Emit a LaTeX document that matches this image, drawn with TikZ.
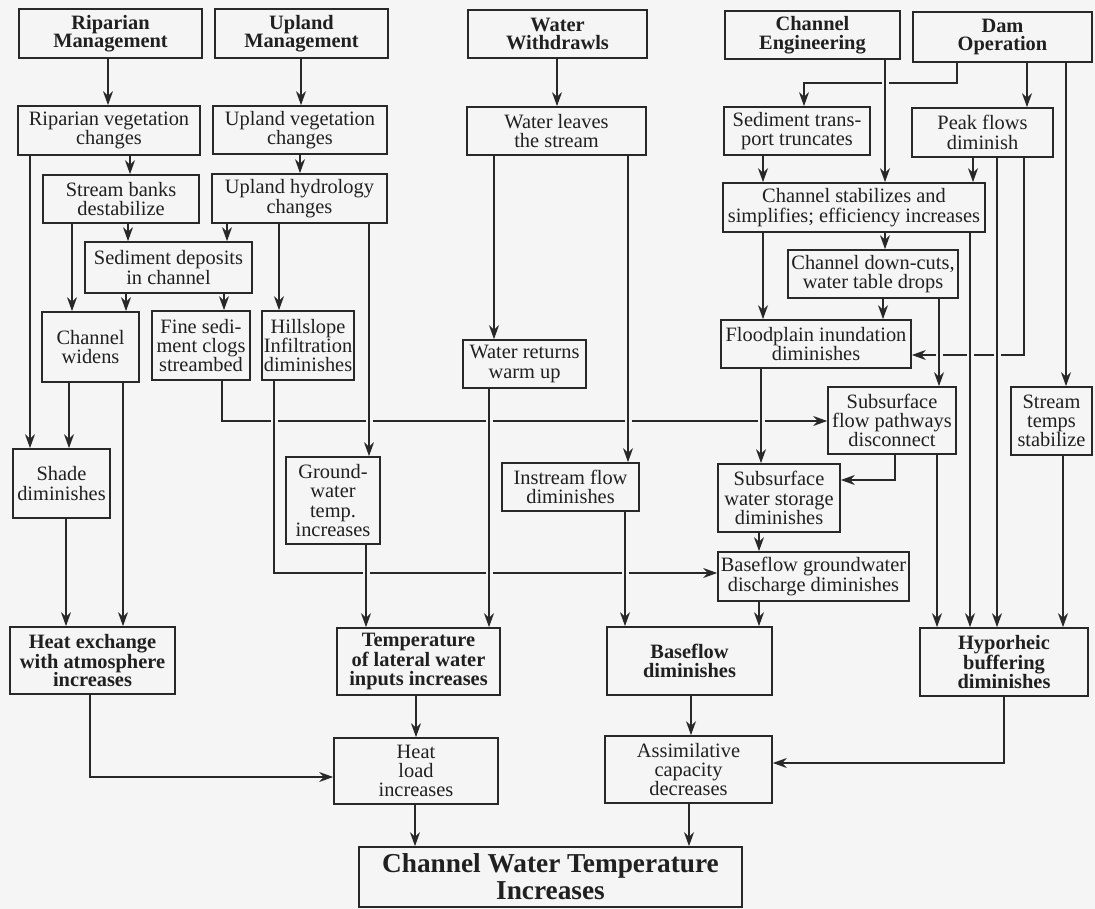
\documentclass[tikz,border=0pt]{standalone}
\usepackage{fontspec}
\setmainfont{Liberation Serif}
\usetikzlibrary{arrows.meta}
\definecolor{ink}{RGB}{40,40,40}
\definecolor{paper}{RGB}{245,245,245}

\begin{document}
\begin{tikzpicture}[
  x=1pt, y=-1pt,
  box/.style = {draw=ink, line width=1.7pt, align=center, inner sep=0pt,
    text=ink!80!black, font=\fontsize{20.4}{19.3}\selectfont},
  head/.style = {box, font=\fontsize{20.4}{18.6}\selectfont\bfseries},
  wh/.style 2 args = {minimum width=#1pt, minimum height=#2pt},
  link/.style = {->, draw=ink, line width=1.4pt},
  cross/.style = {preaction={draw=paper, line width=7pt, -, shorten <=5pt, shorten >=5pt}},
  >={Stealth[length=14pt, width=10pt, inset=4.5pt]},
]

  \fill[paper] (0,0) rectangle (1095,909);

  % sources
  \node[head, wh={183}{49}] (rmgmt) at (110.5,33.5) {Riparian\\Management};
  \node[head, wh={173}{49}] (umgmt) at (301.5,33.5) {Upland\\Management};
  \node[head, wh={179}{48}] (wwd)   at (557.5,34)   {Water\\Withdrawls};
  \node[head, wh={175}{48}] (ceng)  at (812.5,35)   {Channel\\Engineering};
  \node[head, wh={179}{50}] (dam)   at (1002.5,37)  {Dam\\Operation};

  % processes
  \node[box, wh={182}{49}] (rveg)   at (109,130.5)   {Riparian vegetation\\changes};
  \node[box, wh={174}{48}] (uveg)   at (300,130)     {Upland vegetation\\changes};
  \node[box, wh={179}{48}] (wleave) at (556.5,131)   {Water leaves\\the stream};
  \node[box, wh={146}{48}] (sedtr)  at (797,131)     {Sediment trans-\\port truncates};
  \node[box, wh={141}{49}] (peak)   at (982.5,132.5) {Peak flows\\diminish};

  \node[box, wh={156}{48}] (banks)  at (121,199)     {Stream banks\\destabilize};
  \node[box, wh={175}{49}] (uhyd)   at (299.5,198.5) {Upland hydrology\\changes};
  \node[box, wh={262}{49}] (cstab)  at (854,207.5)   {Channel stabilizes and\\simplifies; efficiency increases};

  \node[box, wh={167}{51}] (seddep) at (168.5,267.5) {Sediment deposits\\in channel};
  \node[box, wh={170}{48}] (dcut)   at (873,274)     {Channel down-cuts,\\water table drops};

  \node[box, wh={97}{70}]  (widen)  at (90.5,347)    {Channel\\widens};
  \node[box, wh={98}{69}]  (fine)   at (201,345.5)   {Fine sedi-\\ment clogs\\streambed};
  \node[box, wh={92}{69}]  (hill)   at (308,345.5)   {Hillslope\\Infiltration\\diminishes};
  \node[box, wh={123}{48}] (wret)   at (524.5,364)   {Water returns\\warm up};
  \node[box, wh={190}{48}] (flood)  at (816,344)     {Floodplain inundation\\diminishes};

  \node[box, wh={128}{67}] (sfp)    at (892,420.5)   {Subsurface\\flow pathways\\disconnect};
  \node[box, wh={81}{68}]  (stemp)  at (1051.5,421)  {Stream\\temps\\stabilize};
  \node[box, wh={97}{69}]  (shade)  at (61.5,483.5)  {Shade\\diminishes};
  \node[box, wh={94}{87}]  (gwt)    at (333,500.5)   {Ground-\\water\\temp.\\increases};
  \node[box, wh={137}{48}] (instr)  at (570.5,487)   {Instream flow\\diminishes};
  \node[box, wh={122}{68}] (sws)    at (779,498)     {Subsurface\\water storage\\diminishes};
  \node[box, wh={191}{49}] (bgw)    at (813.5,576.5) {Baseflow groundwater\\discharge diminishes};

  % effects
  \node[head, wh={165}{67}] (hex)   at (92.5,660.5)  {Heat exchange\\with atmosphere\\increases};
  \node[head, wh={163}{67}] (tlat)  at (418.5,661.5) {Temperature\\of lateral water\\inputs increases};
  \node[head, wh={165}{68}] (bfd)   at (689.5,661)   {Baseflow\\diminishes};
  \node[head, wh={168}{68}] (hyp)   at (1004,662)    {Hyporheic\\buffering\\diminishes};

  \node[box, wh={164}{66}] (hload)  at (416,771)     {Heat\\load\\increases};
  \node[box, wh={167}{67}] (assim)  at (688.5,769.5) {Assimilative\\capacity\\decreases};

  \node[box, wh={383}{60}, font=\fontsize{27.3}{26.7}\selectfont\bfseries]
    (cwt) at (550.5,877) {Channel Water Temperature\\Increases};

  % bent links
  \draw[link] (dam.south -| 957,0) -- (957,83) -- (804,83) -- (sedtr.north -| 804,0);
  \draw[link] (peak.south -| 1024,0) |- (flood.east |- 0,355);
  \draw[link] (fine.south -| 222,0) |- (sfp.west |- 0,421);
  \draw[link, cross] (hill.south -| 274,0) |- (bgw.west |- 0,573);
  \draw[link] (sfp.south -| 895,0) |- (sws.east |- 0,480);
  \draw[link] (hyp.south) |- (assim.east |- 0,763);
  \draw[link] (hex.south -| 90,0) |- (hload.west |- 0,777);

  % straight links
  \draw[link] (rmgmt.south -| 108,0) -- (rveg.north -| 108,0);
  \draw[link] (umgmt.south -| 301,0) -- (uveg.north -| 301,0);
  \draw[link] (wwd.south -| 557,0) -- (wleave.north -| 557,0);
  \draw[link] (dam.south -| 1027,0) -- (peak.north -| 1027,0);
  \draw[link] (dam.south -| 1066,0) -- (stemp.north -| 1066,0);
  \draw[link, cross] (ceng.south -| 885,0) -- (cstab.north -| 885,0);

  \draw[link] (rveg.south -| 30,0) -- (shade.north -| 30,0);
  \draw[link] (rveg.south -| 130,0) -- (banks.north -| 130,0);
  \draw[link] (uveg.south -| 300,0) -- (uhyd.north -| 300,0);
  \draw[link] (banks.south -| 72,0) -- (widen.north -| 72,0);
  \draw[link] (banks.south -| 128,0) -- (seddep.north -| 128,0);
  \draw[link] (uhyd.south -| 227,0) -- (seddep.north -| 227,0);
  \draw[link] (uhyd.south -| 279,0) -- (hill.north -| 279,0);
  \draw[link, cross] (uhyd.south -| 369,0) -- (gwt.north -| 369,0);
  \draw[link] (seddep.south -| 126,0) -- (widen.north -| 126,0);
  \draw[link] (seddep.south -| 224,0) -- (fine.north -| 224,0);
  \draw[link] (widen.south -| 69,0) -- (shade.north -| 69,0);
  \draw[link] (widen.south -| 123,0) -- (hex.north -| 123,0);
  \draw[link] (shade.south -| 66,0) -- (hex.north -| 66,0);
  \draw[link, cross] (gwt.south -| 366,0) -- (tlat.north -| 366,0);

  \draw[link] (wleave.south -| 494,0) -- (wret.north -| 494,0);
  \draw[link, cross] (wleave.south -| 628,0) -- (instr.north -| 628,0);
  \draw[link, cross] (wret.south -| 489,0) -- (tlat.north -| 489,0);
  \draw[link, cross] (instr.south -| 625,0) -- (bfd.north -| 625,0);

  \draw[link] (sedtr.south -| 763,0) -- (cstab.north -| 763,0);
  \draw[link] (peak.south -| 973,0) -- (cstab.north -| 973,0);
  \draw[link] (cstab.south -| 885,0) -- (dcut.north -| 885,0);
  \draw[link] (cstab.south -| 763,0) -- (flood.north -| 763,0);
  \draw[link, cross] (cstab.south -| 970,0) -- (hyp.north -| 970,0);
  \draw[link, cross] (peak.south -| 997,0) -- (hyp.north -| 997,0);
  \draw[link] (dcut.south -| 883,0) -- (flood.north -| 883,0);
  \draw[link, cross] (dcut.south -| 939,0) -- (sfp.north -| 939,0);
  \draw[link, cross] (flood.south -| 761,0) -- (sws.north -| 761,0);
  \draw[link] (sfp.south -| 937,0) -- (hyp.north -| 937,0);
  \draw[link] (stemp.south -| 1063,0) -- (hyp.north -| 1063,0);
  \draw[link] (sws.south -| 759,0) -- (bgw.north -| 759,0);
  \draw[link] (bgw.south -| 759,0) -- (bfd.north -| 759,0);

  \draw[link] (bfd.south -| 691,0) -- (assim.north -| 691,0);
  \draw[link] (tlat.south -| 416,0) -- (hload.north -| 416,0);
  \draw[link] (hload.south -| 415,0) -- (cwt.north -| 415,0);
  \draw[link] (assim.south -| 689,0) -- (cwt.north -| 689,0);

\end{tikzpicture}
\end{document}
